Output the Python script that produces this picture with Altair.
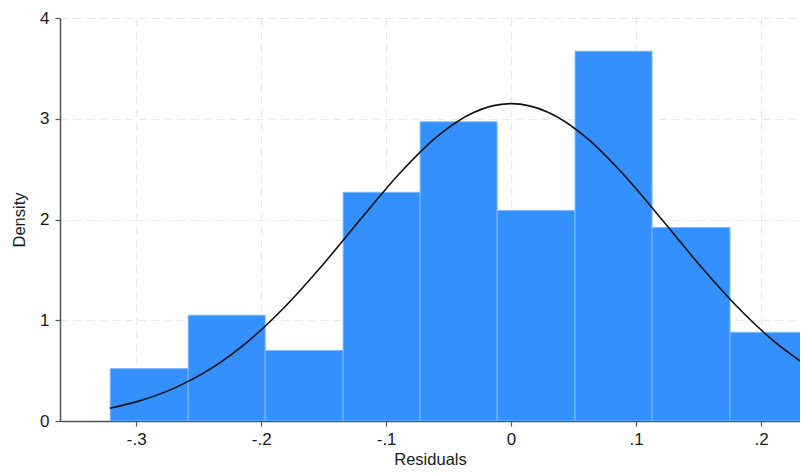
import altair as alt
import pandas as pd

# Histogram bins (Residuals) and densities
bin_start = [-0.3208, -0.2584, -0.1968, -0.1344, -0.0728, -0.0112, 0.0512, 0.1128, 0.1752]
bin_end = [-0.2584, -0.1968, -0.1344, -0.0728, -0.0112, 0.0512, 0.1128, 0.1752, 0.2376]
density = [0.52, 1.05, 0.70, 2.27, 2.97, 2.09, 3.67, 1.92, 0.88]

# Normal density overlay
curve_x = [-0.321, -0.30, -0.27, -0.24, -0.21, -0.18, -0.15, -0.12, -0.09, -0.06, -0.03, 0.0,
           0.03, 0.06, 0.09, 0.12, 0.15, 0.18, 0.21, 0.2376]
curve_y = [0.127, 0.190, 0.324, 0.522, 0.796, 1.147, 1.561, 2.010, 2.447, 2.816, 3.063, 3.15,
           3.063, 2.816, 2.447, 2.010, 1.561, 1.147, 0.796, 0.541]

x_ticks = [-0.3, -0.2, -0.1, 0.0, 0.1, 0.2]
y_ticks = [0, 1, 2, 3, 4]

bars_df = pd.DataFrame({"start": bin_start, "end": bin_end, "density": density})
curve_df = pd.DataFrame({"x": curve_x, "y": curve_y})

x_scale = alt.Scale(domain=[-0.361, 0.2312], nice=False, zero=False)
y_scale = alt.Scale(domain=[0, 4.0], nice=False)

x_axis = alt.Axis(
    values=x_ticks,
    title="Residuals",
    labelExpr="datum.value == 0 ? '0' : (datum.value < 0 ? '-' : '') + '.' + round(abs(datum.value) * 10)",
    grid=True,
)
y_axis = alt.Axis(values=y_ticks, title="Density", grid=True, labelExpr="format(datum.value, 'd')")

bars = alt.Chart(bars_df).mark_bar(
    color="#3590FF", stroke="#7DB9FF", strokeWidth=1, clip=True
).encode(
    x=alt.X("start:Q", scale=x_scale, axis=x_axis),
    x2="end:Q",
    y=alt.Y("density:Q", scale=y_scale, axis=y_axis),
    y2=alt.datum(0),
)

line = alt.Chart(curve_df).mark_line(
    color="#111111", strokeWidth=1.6, interpolate="monotone", clip=True
).encode(
    x=alt.X("x:Q", scale=x_scale),
    y=alt.Y("y:Q", scale=y_scale),
)

chart = (
    alt.layer(bars, line)
    .properties(
        width=740,
        height=403,
        autosize="none",
        padding={"left": 52, "top": 10, "right": 0, "bottom": 47},
    )
    .configure_view(stroke=None)
    .configure_axis(
        labelFont="Liberation Sans",
        titleFont="Liberation Sans",
        labelFontSize=17,
        titleFontSize=16.5,
        titleFontWeight="normal",
        labelColor="#1a1a1a",
        titleColor="#1a1a1a",
        domainColor="#555555",
        domainWidth=1.5,
        tickColor="#555555",
        tickSize=5,
        tickWidth=1.2,
        gridColor="#E8E8E8",
        gridDash=[8, 5],
        gridWidth=1.2,
    )
    .configure_axisX(labelPadding=5, titlePadding=4)
    .configure_axisY(labelPadding=6, titlePadding=12)
)

chart.save("out.html", embed_options={"renderer": "svg", "actions": False})
